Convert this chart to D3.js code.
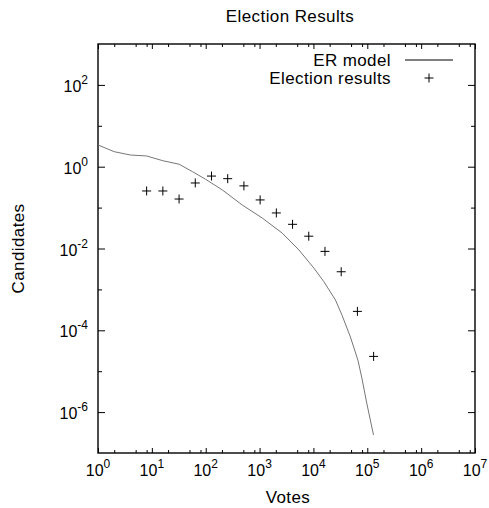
<!DOCTYPE html>
<html>
<head>
<meta charset="utf-8">
<script src="https://cdn.jsdelivr.net/npm/d3@7"></script>
<style>
  body { margin: 0; background: #fff; }
  text { font-family: "Liberation Sans", Arial, sans-serif; fill: #000; }
</style>
</head>
<body>
<div id="chart"></div>
<script>
// election results, votes are powers of two
var resultVotes = [8, 16, 32, 64, 128, 256, 512, 1024, 2048, 4096, 8192, 16384, 32768, 65536, 131072];
var resultCandidates = [0.255, 0.255, 0.162, 0.40, 0.59, 0.51, 0.34, 0.154, 0.074, 0.039, 0.020, 0.0085, 0.0027, 2.9e-4, 2.3e-5];

// ER model curve
var modelVotes = [1, 2, 4, 8, 16, 32, 57, 100, 204, 476, 1117, 2612, 5383, 10190, 15600, 25650, 33960, 48530, 67000, 79400, 97700, 130600];
var modelCandidates = [3.4, 2.33, 1.93, 1.83, 1.40, 1.15, 0.755, 0.49, 0.27, 0.116, 0.0557, 0.024, 0.0092, 0.00333, 0.00155, 5.5e-4, 2.34e-4, 6.9e-5, 1.86e-5, 6.8e-6, 1.66e-6, 2.75e-7];

var xMajor = [0, 1, 2, 3, 4, 5, 6, 7];          // exponents
var xMinorMult = [2, 5, 8];
var yMajor = [2, 0, -2, -4, -6];
var yMinor = [1, -1, -3, -5];

var width = 489, height = 508;
var margin = {left: 98, top: 44, right: 14, bottom: 55};
var w = width - margin.left - margin.right;
var h = height - margin.top - margin.bottom;

var svg = d3.select("#chart").append("svg")
  .attr("width", width).attr("height", height);

var x = d3.scaleLog().domain([1, 1e7]).range([0, w]);
var y = d3.scaleLog().domain([1e-7, 1e3]).range([h, 0]);

var g = svg.append("g").attr("transform", "translate(" + margin.left + "," + margin.top + ")");

var xMinor = [];
xMajor.slice(0, -1).forEach(function(e){
  xMinorMult.forEach(function(m){ xMinor.push(m * Math.pow(10, e)); });
});

function addTicks(axisFn, scale, values, size, transform){
  var a = g.append("g").attr("transform", transform)
    .call(axisFn(scale).tickValues(values).tickSizeInner(size).tickSizeOuter(0).tickFormat(function(){return "";}));
  a.select(".domain").remove();
  a.selectAll("line").attr("stroke", "#000").attr("stroke-width", 1);
}

var xMajorVals = xMajor.map(function(e){return Math.pow(10, e);});
var yMajorVals = yMajor.map(function(e){return Math.pow(10, e);});
var yMinorVals = yMinor.map(function(e){return Math.pow(10, e);});

// ticks on all four sides, pointing inward
addTicks(d3.axisBottom, x, xMajorVals, -5, "translate(0," + h + ")");
addTicks(d3.axisBottom, x, xMinor, -3, "translate(0," + h + ")");
addTicks(d3.axisTop, x, xMajorVals, -5, "translate(0,0)");
addTicks(d3.axisTop, x, xMinor, -3, "translate(0,0)");
addTicks(d3.axisLeft, y, yMajorVals, -7, "translate(0,0)");
addTicks(d3.axisLeft, y, yMinorVals, -4, "translate(0,0)");
addTicks(d3.axisRight, y, yMajorVals, -7, "translate(" + w + ",0)");
addTicks(d3.axisRight, y, yMinorVals, -4, "translate(" + w + ",0)");

g.append("rect")
  .attr("x", 0).attr("y", 0).attr("width", w).attr("height", h)
  .attr("fill", "none").attr("stroke", "#000").attr("stroke-width", 1.4);

// tick labels with superscript exponents
var xl = g.selectAll(".xlab").data(xMajor).enter().append("text")
  .attr("class", "xlab")
  .attr("x", function(d){return x(Math.pow(10, d));})
  .attr("y", h + 23)
  .attr("text-anchor", "middle")
  .style("font-size", "16px");
xl.append("tspan").text("10");
xl.append("tspan").attr("dy", -8).style("font-size", "12px").text(function(d){return d;});

var yl = g.selectAll(".ylab").data(yMajor).enter().append("text")
  .attr("class", "ylab")
  .attr("x", -10)
  .attr("y", function(d){return y(Math.pow(10, d)) + 7;})
  .attr("text-anchor", "end")
  .style("font-size", "16px");
yl.append("tspan").text("10");
yl.append("tspan").attr("dy", -8).style("font-size", "12px").text(function(d){return d;});

// model line
var line = d3.line()
  .x(function(d){return x(d[0]);})
  .y(function(d){return y(d[1]);});

g.append("path")
  .datum(d3.zip(modelVotes, modelCandidates))
  .attr("d", line)
  .attr("fill", "none")
  .attr("stroke", "#666")
  .attr("stroke-width", 0.9);

// result points as plus signs
var s = 4.5;
g.selectAll(".pt").data(d3.zip(resultVotes, resultCandidates)).enter().append("path")
  .attr("class", "pt")
  .attr("d", function(d){
    var px = x(d[0]), py = y(d[1]);
    return "M" + (px - s) + "," + py + "H" + (px + s) + "M" + px + "," + (py - s) + "V" + (py + s);
  })
  .attr("stroke", "#000")
  .attr("stroke-width", 1)
  .attr("fill", "none");

// legend
var lg = svg.append("g");
lg.append("text").attr("x", 391).attr("y", 66).attr("text-anchor", "end")
  .style("font-size", "17px").style("letter-spacing", "0.4px").text("ER model");
lg.append("line").attr("x1", 405).attr("x2", 453).attr("y1", 60).attr("y2", 60)
  .attr("stroke", "#000").attr("stroke-width", 1);
lg.append("text").attr("x", 391).attr("y", 84).attr("text-anchor", "end")
  .style("font-size", "17px").style("letter-spacing", "0.4px").text("Election results");
lg.append("path")
  .attr("d", "M" + (429 - s) + ",78H" + (429 + s) + "M429," + (78 - s) + "V" + (78 + s))
  .attr("stroke", "#000").attr("stroke-width", 1);

// titles
svg.append("text").attr("x", 290).attr("y", 22).attr("text-anchor", "middle")
  .style("font-size", "17px").style("letter-spacing", "0.4px").text("Election Results");
svg.append("text").attr("x", 288).attr("y", 503).attr("text-anchor", "middle")
  .style("font-size", "17px").style("letter-spacing", "0.4px").text("Votes");
svg.append("text")
  .attr("transform", "translate(24," + (margin.top + h / 2) + ") rotate(-90)")
  .attr("text-anchor", "middle")
  .style("font-size", "17px").style("letter-spacing", "0.4px").text("Candidates");
</script>
</body>
</html>
